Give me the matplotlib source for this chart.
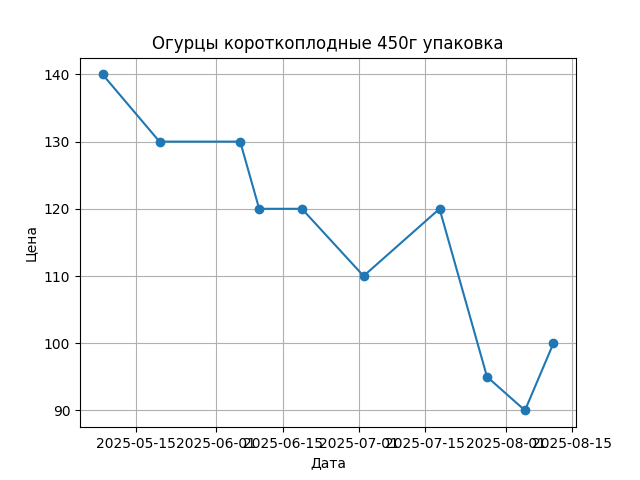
import matplotlib
matplotlib.use("Agg")
import matplotlib.pyplot as plt
import pandas as pd

dates = ["2025-05-08", "2025-05-20", "2025-06-06", "2025-06-10", "2025-06-19",
         "2025-07-02", "2025-07-18", "2025-07-28", "2025-08-05", "2025-08-11"]
prices = [140, 130, 130, 120, 120, 110, 120, 95, 90, 100]

x = pd.to_datetime(dates)

fig, ax = plt.subplots(figsize=(6.4, 4.8), dpi=100)
ax.plot(x, prices, marker="o")
ax.set_title("Огурцы короткоплодные 450г упаковка")
ax.set_xlabel("Дата")
ax.set_ylabel("Цена")
ax.grid(True)
fig.savefig("out.png")
